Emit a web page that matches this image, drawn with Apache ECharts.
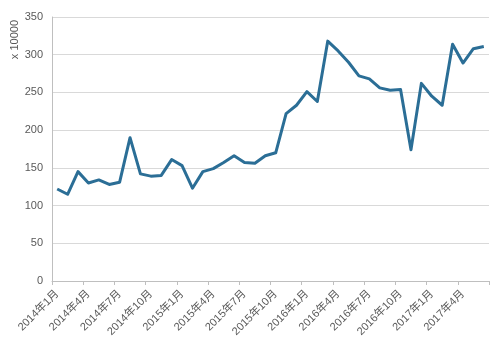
<!DOCTYPE html>
<html>
<head>
<meta charset="utf-8">
<script src="https://cdn.jsdelivr.net/npm/echarts@6/dist/echarts.min.js"></script>
<style>
  html, body { margin: 0; padding: 0; background: #ffffff; }
  #chart { width: 500px; height: 343px; }
</style>
</head>
<body>
<div id="chart"></div>
<script>
// Monthly categories, 2014年1月 .. 2017年6月
const months = [];
for (let y = 2014; y <= 2017; y++) {
  for (let m = 1; m <= 12; m++) {
    if (y === 2017 && m > 6) break;
    months.push(y + '年' + m + '月');
  }
}

// Monthly values (unit: x 10000)
const values = [
  122, 115, 145, 130, 134, 128, 131, 190, 142, 139, 140, 161,
  153, 123, 145, 149, 157, 166, 157, 156, 166, 170, 222, 233,
  251, 238, 318, 305, 290, 272, 268, 256, 253, 254, 174, 262,
  245, 233, 314, 289, 308, 311
];

const yTicks = { min: 0, max: 350, interval: 50 };
const yUnit = 'x 10000';

const textColor = '#595959';
const fontFamily = '"Liberation Sans", Arial, "Noto Sans CJK SC", sans-serif';

const chart = echarts.init(document.getElementById('chart'), null, { renderer: 'canvas' });
chart.setOption({
  backgroundColor: '#ffffff',
  animation: false,
  grid: { left: 52, right: 11, top: 17, bottom: 62, containLabel: false },
  xAxis: {
    type: 'category',
    data: months,
    boundaryGap: true,
    axisLine: { show: true, lineStyle: { color: '#bfbfbf', width: 1 } },
    axisTick: { show: true, interval: 2, length: 4, alignWithLabel: false, lineStyle: { color: '#bfbfbf' } },
    axisLabel: {
      interval: 2,
      rotate: 45,
      margin: 11,
      color: textColor,
      fontSize: 11,
      fontFamily: fontFamily
    },
    splitLine: { show: false }
  },
  yAxis: {
    type: 'value',
    min: yTicks.min,
    max: yTicks.max,
    interval: yTicks.interval,
    axisLine: { show: true, lineStyle: { color: '#bfbfbf', width: 1 } },
    axisTick: { show: false },
    axisLabel: { color: textColor, fontSize: 11, fontFamily: fontFamily, margin: 9 },
    splitLine: { show: true, lineStyle: { color: '#d9d9d9', width: 1 } }
  },
  graphic: [{
    type: 'text',
    left: 9,
    top: 20,
    rotation: Math.PI / 2,
    style: {
      text: yUnit,
      fill: textColor,
      font: '11px ' + fontFamily
    }
  }],
  series: [{
    type: 'line',
    data: values,
    symbol: 'none',
    smooth: false,
    lineStyle: { color: '#2b6e96', width: 3, join: 'round' },
    itemStyle: { color: '#2b6e96' }
  }]
});
</script>
</body>
</html>
